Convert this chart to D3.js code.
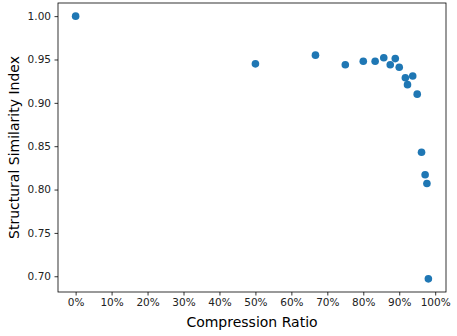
<!DOCTYPE html>
<html>
<head>
<meta charset="utf-8">
<script src="https://cdn.jsdelivr.net/npm/d3@7"></script>
<style>
  body { margin: 0; background: #fff; }
  svg { font-family: "DejaVu Sans", sans-serif; }
</style>
</head>
<body>
<svg></svg>
<script>
// compression ratio (fraction) and SSIM
let ratio = [0, 0.50, 0.667, 0.75, 0.80, 0.833, 0.857, 0.875, 0.889, 0.90, 0.917, 0.923, 0.9375, 0.95, 0.962, 0.972, 0.977, 0.981]
let ssim  = [1.000, 0.945, 0.955, 0.944, 0.948, 0.948, 0.952, 0.944, 0.951, 0.941, 0.929, 0.921, 0.931, 0.910, 0.843, 0.817, 0.807, 0.697]
let xTicks = [0, 0.1, 0.2, 0.3, 0.4, 0.5, 0.6, 0.7, 0.8, 0.9, 1.0]
let yTicks = [0.70, 0.75, 0.80, 0.85, 0.90, 0.95, 1.00]

let width = 457
let height = 336
let mLeft = 58, mRight = 446, mTop = 3, mBottom = 292

let svg = d3.select('svg')
    .attr('width', width)
    .attr('height', height)

let points = ratio.map((r, i) => [r, ssim[i]])

// matplotlib style 5% margins
let pad = (ext) => {
    let m = (ext[1] - ext[0]) * 0.05
    return [ext[0] - m, ext[1] + m]
}

let xScale = d3.scaleLinear()
    .domain(pad(d3.extent(ratio)))
    .range([mLeft, mRight])

let yScale = d3.scaleLinear()
    .domain(pad(d3.extent(ssim)))
    .range([mBottom, mTop])

let xAxis = d3.axisBottom(xScale)
    .tickValues(xTicks)
    .tickFormat(d3.format('.0%'))
    .tickSize(3.5)
    .tickPadding(3.5)

let yAxis = d3.axisLeft(yScale)
    .tickValues(yTicks)
    .tickFormat(d3.format('.2f'))
    .tickSize(3.5)
    .tickPadding(3.5)

let gx = svg.append('g')
    .attr('transform', 'translate(0, ' + mBottom + ')')
    .call(xAxis)

let gy = svg.append('g')
    .attr('transform', 'translate(' + mLeft + ', 0)')
    .call(yAxis)

;[gx, gy].forEach(g => {
    g.select('.domain').remove()
    g.selectAll('.tick line').attr('stroke', '#000').attr('stroke-width', 0.8)
    g.selectAll('.tick text')
     .attr('fill', '#222')
     .style('font-size', '10.5px')
     .style('font-family', '"DejaVu Sans", sans-serif')
})

// frame
svg.append('rect')
   .attr('x', mLeft)
   .attr('y', mTop)
   .attr('width', mRight - mLeft)
   .attr('height', mBottom - mTop)
   .attr('fill', 'none')
   .attr('stroke', '#000')
   .attr('stroke-width', 0.8)

svg.selectAll('circle')
   .data(points)
   .enter()
   .append('circle')
   .attr('cx', d => xScale(d[0]))
   .attr('cy', d => yScale(d[1]))
   .attr('r', 3.8)
   .attr('fill', '#1f77b4')

svg.append('text')
   .attr('x', (mLeft + mRight) / 2)
   .attr('y', 327)
   .attr('text-anchor', 'middle')
   .style('font-size', '14px')
   .text('Compression Ratio')

svg.append('text')
   .attr('transform', 'translate(19, ' + ((mTop + mBottom) / 2) + ') rotate(-90)')
   .attr('text-anchor', 'middle')
   .style('font-size', '14px')
   .text('Structural Similarity Index')
</script>
</body>
</html>
